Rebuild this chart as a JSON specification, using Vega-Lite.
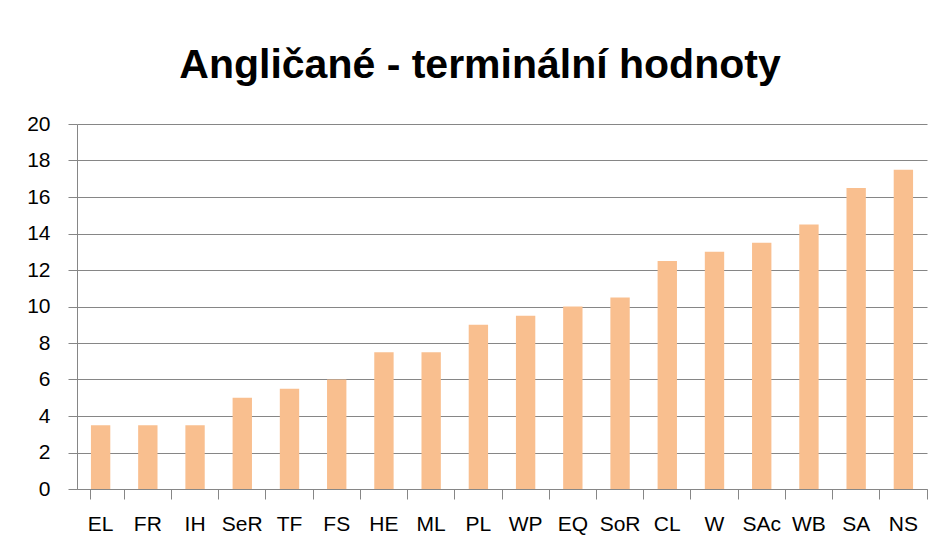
{
  "$schema": "https://vega.github.io/schema/vega-lite/v6.json",
  "width": 850,
  "height": 365,
  "autosize": "none",
  "padding": {"left": 77, "top": 124, "right": 19, "bottom": 60},
  "background": "white",
  "title": {
    "text": "Angličané - terminální hodnoty",
    "font": "Liberation Sans",
    "fontSize": 41,
    "fontWeight": "bold",
    "color": "black",
    "anchor": "middle",
    "baseline": "alphabetic",
    "offset": -6,
    "dx": -22
  },
  "data": {
    "values": [
      {"k": "EL", "v": 3.5},
      {"k": "FR", "v": 3.5},
      {"k": "IH", "v": 3.5},
      {"k": "SeR", "v": 5},
      {"k": "TF", "v": 5.5},
      {"k": "FS", "v": 6},
      {"k": "HE", "v": 7.5},
      {"k": "ML", "v": 7.5},
      {"k": "PL", "v": 9},
      {"k": "WP", "v": 9.5},
      {"k": "EQ", "v": 10},
      {"k": "SoR", "v": 10.5},
      {"k": "CL", "v": 12.5},
      {"k": "W", "v": 13},
      {"k": "SAc", "v": 13.5},
      {"k": "WB", "v": 14.5},
      {"k": "SA", "v": 16.5},
      {"k": "NS", "v": 17.5}
    ]
  },
  "mark": {"type": "bar", "color": "#F9BF8F"},
  "encoding": {
    "x": {
      "field": "k",
      "type": "nominal",
      "sort": null,
      "scale": {"paddingInner": 0.59, "paddingOuter": 0.295},
      "axis": {
        "title": null,
        "labelAngle": 0,
        "bandPosition": 1.72,
        "tickExtra": true,
        "grid": false,
        "domainColor": "#868686",
        "tickColor": "#868686",
        "tickSize": 10,
        "labelFont": "Liberation Sans",
        "labelFontSize": 21,
        "labelColor": "black",
        "labelPadding": 14
      }
    },
    "y": {
      "field": "v",
      "type": "quantitative",
      "scale": {"domain": [0, 20]},
      "axis": {
        "title": null,
        "values": [0, 2, 4, 6, 8, 10, 12, 14, 16, 18, 20],
        "grid": true,
        "gridColor": "#868686",
        "domainColor": "#868686",
        "tickColor": "#868686",
        "tickSize": 9,
        "labelFont": "Liberation Sans",
        "labelFontSize": 21,
        "labelColor": "black",
        "labelPadding": 18
      }
    }
  },
  "config": {"view": {"stroke": null}}
}
